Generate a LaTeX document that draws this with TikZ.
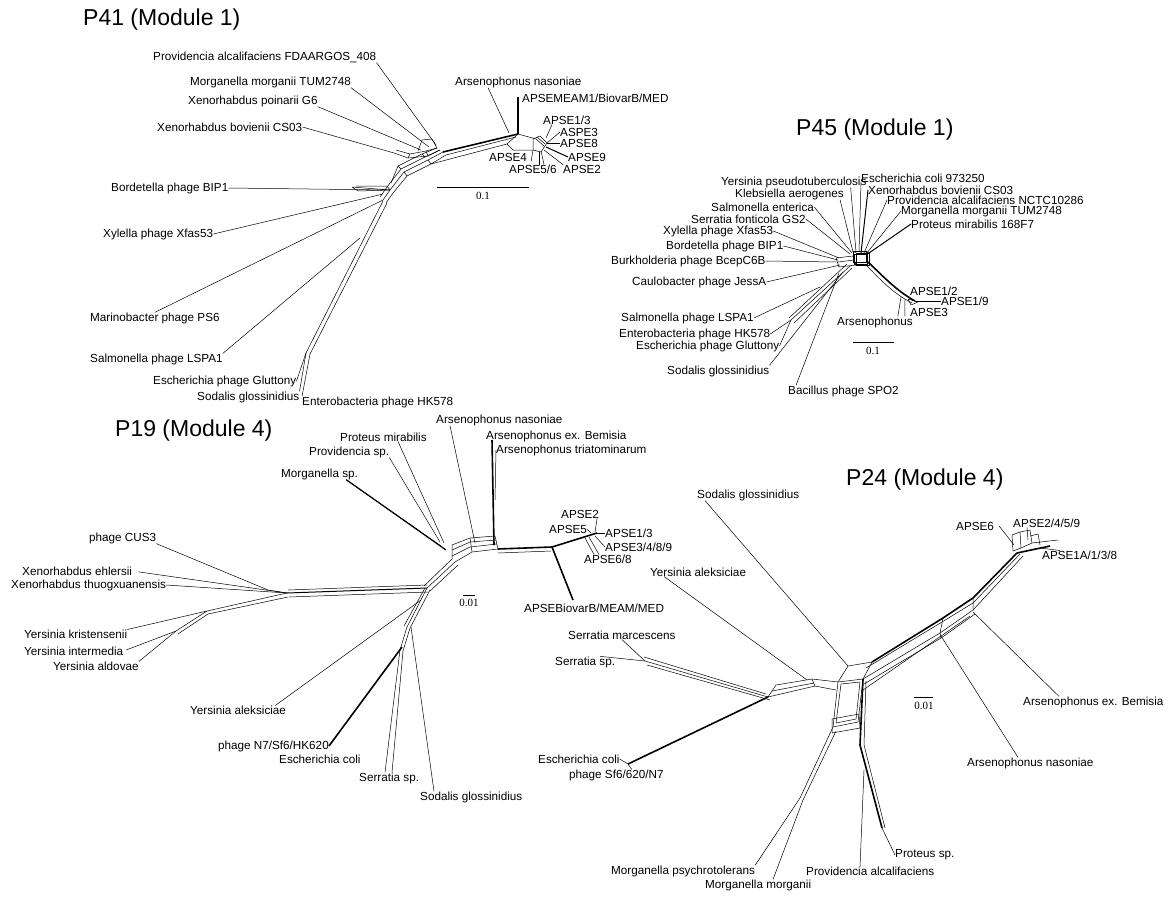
\documentclass[tikz,border=0pt]{standalone}
\usepackage{fontspec}
\setmainfont{Liberation Sans}
\newfontfamily\barfont{Liberation Serif}
\usepackage{tikz}
\tikzset{
  lab/.style={anchor=west, inner sep=0pt, font=\fontsize{11.7}{13}\selectfont},
  ttl/.style={anchor=west, inner sep=0pt, font=\fontsize{23}{26}\selectfont},
  bar/.style={inner sep=0pt, font=\barfont\fontsize{11}{12}\selectfont},
  net/.style={line width=0.5pt},
  thk/.style={line width=1.6pt},
}
\begin{document}
\begin{tikzpicture}[x=1pt, y=-1pt, line join=round]
\path[use as bounding box] (0,0) rectangle (1169,897);

% ---------- P41 ----------
\node[ttl] (t41) at (83,20) {P41 (Module 1)};
\node[lab] (p41prov) at (153,57) {Providencia alcalifaciens FDAARGOS\_408};
\node[lab] (p41morg) at (190,82) {Morganella morganii TUM2748};
\node[lab] (p41xpoi) at (188,101) {Xenorhabdus poinarii G6};
\node[lab] (p41xbov) at (157,127) {Xenorhabdus bovienii CS03};
\node[lab] (p41bord) at (111,188) {Bordetella phage BIP1};
\node[lab] (p41xyl) at (103,234) {Xylella phage Xfas53};
\node[lab] (p41mar) at (90,318) {Marinobacter phage PS6};
\node[lab] (p41lspa) at (90,359) {Salmonella phage LSPA1};
\node[lab] (p41glut) at (153,381) {Escherichia phage Gluttony};
\node[lab] (p41sod) at (197,397) {Sodalis glossinidius};
\node[lab] (p41hk) at (302,402) {Enterobacteria phage HK578};
\node[lab] (p41arsn) at (455,82) {Arsenophonus nasoniae};
\node[lab] (p41meam) at (522,98) {APSEMEAM1/BiovarB/MED};
\node[lab] (p41a13) at (543,120) {APSE1/3};
\node[lab] (p41a3) at (560,132) {ASPE3};
\node[lab] (p41a8) at (560,143) {APSE8};
\node[lab] (p41a9) at (568,157) {APSE9};
\node[lab] (p41a2) at (563,169) {APSE2};
\node[lab] (p41a4) at (489,157) {APSE4};
\node[lab] (p41a56) at (509,169) {APSE5/6};
\coordinate (e41prov) at (436,145);
\coordinate (e41morg) at (429,147);
\coordinate (e41xpoi) at (421,150);
\coordinate (e41xbov) at (394,153);
\coordinate (e41bord) at (390,190);
\coordinate (e41xyl) at (383,194);
\coordinate (e41mar) at (383,200);
\coordinate (e41lspa) at (360,238);
\coordinate (e41dn) at (306,353);
\coordinate (e41dn2) at (310,354);
\coordinate (e41up) at (443,152);
\coordinate (e41ar) at (518,134);
\coordinate (e41top) at (518,97);
\coordinate (e41cl) at (547,143);
% core
\draw[net] (e41mar) -- (e41bord) -- (404,172) -- (428,160) -- (e41up);
\draw[net] (386,203) -- (393,193) -- (407,176) -- (431,164) -- (446,155);
\draw[net] (380,197) -- (387,187) -- (401,169) -- (425,157) -- (440,150);
\draw[net] (391,183) -- (398,166) -- (422,154) -- (437,148);
\draw[net] (404,172) -- (407,176) (428,160) -- (431,164) (401,169) -- (398,166) (425,157) -- (422,154);
\draw[net] (e41xbov) -- (408,158) -- (428,156) -- (440,150);
\draw[net] (396,150) -- (410,154) -- (426,151) -- (437,148);
\draw[net] (408,158) -- (410,154) (428,156) -- (426,151);
\draw[net] (418,151) -- (422,140) -- (432,139) -- (437,148);
\draw[net] (352,187) -- (e41bord) -- (358,191) -- cycle;
\draw[net] (356,186) -- (387,186) -- (e41bord);
% leaders
\draw[net] (p41prov.south east) -- (e41prov);
\draw[net] (p41morg.south east) -- (e41morg);
\draw[net] (p41xpoi.south east) -- (e41xpoi);
\draw[net] (p41xbov.east) -- (e41xbov);
\draw[net] (p41bord.east) -- (e41bord);
\draw[net] (p41xyl.east) -- (e41xyl);
\draw[net] (p41mar.north) -- (e41mar);
\draw[net] (p41lspa.north east) -- (e41lspa);
\draw[net] (e41dn) -- (383,201);
\draw[net] (e41dn2) -- (387,203);
\draw[net] (p41glut.east) -- (e41dn);
\draw[net] (p41sod.north east) -- (e41dn);
\draw[net] (p41hk.north west) -- (e41dn2);
% Arsenophonus branch
\draw[thk] (e41up) -- (e41ar);
\draw[net] (446,155) -- (516,137);
\draw[net] (431,164) -- (507,144) -- (e41ar);
\draw[thk] (e41ar) -- (e41top);
\draw[net] ([xshift=33pt]p41arsn.south west) -- (509,133);
\draw[net] (e41ar) -- (536,139);
\draw[net] (507,144) -- (513,150) -- (533,150);
\draw[net] (533,139) -- (540,136) -- (e41cl) -- (541,152) -- (533,150) -- cycle;
\draw[net] (536,139) -- (544,146) (537,137) -- (545,144);
\draw[net] (546,138) -- ([xshift=9pt]p41a13.south west);
\draw[net] (e41cl) -- (p41a3.west);
\draw[net] (e41cl) -- (p41a8.west);
\draw[thk, line width=1pt] (546,147) -- (p41a9.west);
\draw[net] (544,150) -- (p41a2.north west);
\draw[net] (539,152) -- ([xshift=30pt]p41a56.north west);
\draw[net] (541,151) -- ([xshift=35pt]p41a56.north west);
\draw[net] (533,150) -- ([xshift=4pt]p41a4.south east);
% scale
\coordinate (b41l) at (437,187);
\coordinate (b41r) at (529,187);
\draw[net] (b41l) -- (b41r);
\node[bar] (s41) at (483,196) {0.1};

% ---------- P45 ----------
\node[ttl] (t45) at (796,130) {P45 (Module 1)};
\node[lab] (p45yps) at (721,182) {Yersinia pseudotuberculosis};
\node[lab] (p45eco) at (861,178) {Escherichia coli 973250};
\node[lab] (p45kle) at (735,194) {Klebsiella aerogenes};
\node[lab] (p45xbov) at (868,190) {Xenorhabdus bovienii CS03};
\node[lab] (p45prov) at (887,200) {Providencia alcalifaciens NCTC10286};
\node[lab] (p45morg) at (901,211) {Morganella morganii TUM2748};
\node[lab] (p45sal) at (711,207) {Salmonella enterica};
\node[lab] (p45ser) at (691,219) {Serratia fonticola GS2};
\node[lab] (p45prot) at (911,224) {Proteus mirabilis 168F7};
\node[lab] (p45xyl) at (663,231) {Xylella phage Xfas53};
\node[lab] (p45bord) at (666,246) {Bordetella phage BIP1};
\node[lab] (p45burk) at (611,261) {Burkholderia phage BcepC6B};
\node[lab] (p45caul) at (632,282) {Caulobacter phage JessA};
\node[lab] (p45lspa) at (621,318) {Salmonella phage LSPA1};
\node[lab] (p45hk) at (619,334) {Enterobacteria phage HK578};
\node[lab] (p45glut) at (636,346) {Escherichia phage Gluttony};
\node[lab] (p45sod) at (667,371) {Sodalis glossinidius};
\node[lab] (p45bac) at (788,391) {Bacillus phage SPO2};
\node[lab] (p45a12) at (910,291) {APSE1/2};
\node[lab] (p45a19) at (941,301) {APSE1/9};
\node[lab] (p45a3) at (910,312) {APSE3};
\node[lab] (p45ars) at (837,322) {Arsenophonus};
\coordinate (e45yps) at (856,252);
\coordinate (e45eco) at (859,252);
\coordinate (e45kle) at (853,252);
\coordinate (e45xbov) at (861,253);
\coordinate (e45prov) at (864,253);
\coordinate (e45morg) at (866,254);
\coordinate (e45prot) at (869,253);
\coordinate (e45sal) at (852,253);
\coordinate (e45ser) at (850,254);
\coordinate (e45xyl) at (839,258);
\coordinate (e45bord) at (838,260);
\coordinate (e45burk) at (836,262);
\coordinate (e45caul) at (840,265);
\coordinate (e45lspa) at (820,287);
\coordinate (e45br) at (791,320);
\coordinate (e45sod) at (843,272);
\coordinate (e45bac) at (839,273);
\coordinate (e45c) at (868,262);
\coordinate (e45tip) at (915,301);
\coordinate (e45ars1) at (901,297);
\coordinate (e45ars2) at (905,299);
% core
\draw[net] (853,251) rectangle (866,262);
\draw[net] (856,253) rectangle (869,265);
\draw[net] (854,254) rectangle (867,264);
\draw[net] (853,251) -- (856,253) (866,251) -- (869,253) (853,262) -- (856,265);
\draw[net] (836,258) -- (853,256) -- (856,265) -- (839,267) -- cycle;
\draw[net] (838,262) -- (854,260);
\draw[net] (847,264) -- (789,318);
\draw[net] (850,266) -- (e45br);
\draw[net] (852,268) -- (794,323);
\draw[thk] (e45c) .. controls (880,273) and (895,290) .. (e45tip);
\draw[net] (866,265) .. controls (878,277) and (892,293) .. (912,303);
\draw[net] (908,299) -- (918,302) -- (911,305) -- cycle;
% leaders
\draw[net] ([xshift=-16pt]p45yps.south east) -- (e45yps);
\draw[net] (p45eco.south west) -- (e45eco);
\draw[net] ([xshift=-4pt]p45kle.south east) -- (e45kle);
\draw[line width=1pt] (p45xbov.west) -- (e45xbov);
\draw[net] (p45prov.west) -- (e45prov);
\draw[net] (p45morg.west) -- (e45morg);
\draw[line width=1pt] (p45prot.west) -- (e45prot);
\draw[net] (p45sal.east) -- (e45sal);
\draw[net] (p45ser.east) -- (e45ser);
\draw[net] (p45xyl.east) -- (e45xyl);
\draw[net] (p45bord.east) -- (e45bord);
\draw[net] (p45burk.east) -- (e45burk);
\draw[net] (p45caul.east) -- (e45caul);
\draw[net] (p45lspa.east) -- (e45lspa);
\draw[net] (p45hk.east) -- (e45br);
\draw[net] (p45glut.east) -- (e45br);
\draw[net] (p45sod.north east) -- (e45sod);
\draw[net] ([xshift=8pt]p45bac.north west) -- (e45bac);
\draw[net] (e45tip) -- (p45a19.west);
\draw[net] ([xshift=-15pt]p45ars.north east) -- (e45ars1);
\draw[net] ([xshift=-8pt]p45ars.north east) -- (e45ars2);
% scale
\coordinate (b45l) at (853,342);
\coordinate (b45r) at (894,342);
\draw[net] (b45l) -- (b45r);
\node[bar] (s45) at (873,351) {0.1};

% ---------- P19 ----------
\node[ttl] (t19) at (115,431) {P19 (Module 4)};
\node[lab] (p19arsn) at (436,420) {Arsenophonus nasoniae};
\node[lab] (p19arsb) at (486,436) {Arsenophonus ex. Bemisia};
\node[lab] (p19arst) at (496,450) {Arsenophonus triatominarum};
\node[lab] (p19prot) at (340,437) {Proteus mirabilis};
\node[lab] (p19prov) at (309,452) {Providencia sp.};
\node[lab] (p19morg) at (281,474) {Morganella sp.};
\node[lab] (p19cus) at (89,538) {phage CUS3};
\node[lab] (p19xehl) at (22,571) {Xenorhabdus ehlersii};
\node[lab] (p19xthu) at (11,585) {Xenorhabdus thuogxuanensis};
\node[lab] (p19ykri) at (24,634) {Yersinia kristensenii};
\node[lab] (p19yint) at (24,651) {Yersinia intermedia};
\node[lab] (p19yald) at (53,666) {Yersinia aldovae};
\node[lab] (p19yale) at (190,710) {Yersinia aleksiciae};
\node[lab] (p19n7) at (218,746) {phage N7/Sf6/HK620};
\node[lab] (p19eco) at (279,759) {Escherichia coli};
\node[lab] (p19ser) at (359,778) {Serratia sp.};
\node[lab] (p19sod) at (420,797) {Sodalis glossinidius};
\node[lab] (p19a2) at (561,514) {APSE2};
\node[lab] (p19a5) at (549,529) {APSE5};
\node[lab] (p19a13) at (605,533) {APSE1/3};
\node[lab] (p19a3489) at (605,547) {APSE3/4/8/9};
\node[lab] (p19a68) at (584,559) {APSE6/8};
\node[lab] (p19biov) at (524,608) {APSEBiovarB/MEAM/MED};
\coordinate (h19a) at (287,593);
\coordinate (h19cus) at (268,590);
\coordinate (h19y1) at (207,611);
\coordinate (h19y2) at (176,631);
\coordinate (h19b) at (427,588);
\coordinate (h19c) at (455,562);
\coordinate (h19d) at (498,549);
\coordinate (h19e) at (552,547);
\coordinate (h19f) at (597,533);
\coordinate (h19g) at (573,600);
\coordinate (h19h) at (492,440);
\coordinate (h19lo) at (407,627);
\coordinate (h19lo2) at (400,650);
\coordinate (h19n7) at (402,647);
\coordinate (h19arsn) at (475,543);
\coordinate (h19prot) at (444,543);
\coordinate (h19prov) at (440,542);
\coordinate (h19morg) at (446,550);
\coordinate (h19yale) at (421,600);
\coordinate (h19sod) at (411,627);
% left part
\draw[net] (p19cus.south east) -- (h19cus) -- (h19a);
\draw[net, shorten <=6pt] (p19xehl.east) -- (h19a);
\draw[net] (p19xthu.east) -- (h19a);
\draw[net] (h19a) -- (h19y1) -- (h19y2);
\draw[net] (288,597) -- (208,614) -- (178,634);
\draw[net] (p19ykri.north east) -- (h19y1);
\draw[net, shorten <=3pt] (p19yint.east) -- (h19y2);
\draw[net] (p19yald.north east) -- (h19y2);
\draw[net] (288,590) -- (427,585);
\draw[line width=1pt] (h19a) -- (h19b);
\draw[net] (289,597) -- (428,592);
% centre
\draw[net] (h19b) -- (h19c);
\draw[net] (424,586) -- (452,559);
\draw[net] (430,591) -- (458,565);
\draw[net] (h19c) -- (472,552) -- (h19d);
\draw[net] (452,556) -- (470,547) -- (497,544);
\draw[net] (452,550) -- (470,542) -- (496,540);
\draw[net] (452,545) -- (470,538) -- (495,536);
\draw[net] (452,545) -- (452,559) (470,538) -- (472,552) (495,536) -- (h19d);
\draw[thk] (h19d) -- (h19e) -- (h19f);
\draw[net] (498,553) -- (551,551);
\draw[thk] (h19e) -- (h19g);
\draw[thk] (494,545) -- (h19h);
\draw[net] (495,500) -- (p19arst.west);
\draw[net] ([xshift=14pt]p19arsn.south west) -- (h19arsn);
\draw[net] ([xshift=58pt]p19prot.south west) -- (h19prot);
\draw[net] (p19prov.south east) -- (h19prov);
\draw[thk, line width=1.2pt] ([xshift=-12pt]p19morg.south east) -- (h19morg);
\draw[net] ([xshift=-12pt]p19morg.south east) -- (441,546);
% lower part
\draw[net] (425,588) -- (404,626);
\draw[net] (h19b) -- (h19lo);
\draw[net] (430,590) -- (410,628);
\draw[net] (h19lo) -- (h19lo2);
\draw[net] (410,628) -- (403,651);
\draw[net] ([xshift=-11pt]p19yale.north east) -- (h19yale);
\draw[thk] (p19n7.east) -- (h19n7);
\draw[net] ([xshift=26pt]p19ser.north west) -- (h19lo2);
\draw[net] ([xshift=33pt]p19ser.north west) -- (403,651);
\draw[net] ([xshift=14pt]p19sod.north west) -- (h19sod);
% APSE tips
\draw[net] (591,533) -- (p19a5.east);
\draw[net] (595,532) -- ([xshift=-2pt]p19a2.south east);
\draw[net] (h19f) -- (p19a13.west);
\draw[net] (595,536) -- (p19a3489.west);
\draw[net] (585,538) -- ([xshift=10pt]p19a68.north west);
\draw[net] (589,537) -- ([xshift=15pt]p19a68.north west);
% scale
\coordinate (b19l) at (463,595);
\coordinate (b19r) at (475,595);
\draw[net] (b19l) -- (b19r);
\node[bar] (s19) at (469,603) {0.01};

% ---------- P24 ----------
\node[ttl] (t24) at (846,480) {P24 (Module 4)};
\node[lab] (p24sod) at (697,495) {Sodalis glossinidius};
\node[lab] (p24a6) at (956,526) {APSE6};
\node[lab] (p24a2459) at (1013,523) {APSE2/4/5/9};
\node[lab] (p24a1a) at (1042,555) {APSE1A/1/3/8};
\node[lab] (p24yale) at (650,572) {Yersinia aleksiciae};
\node[lab] (p24smar) at (568,635) {Serratia marcescens};
\node[lab] (p24ssp) at (555,662) {Serratia sp.};
\node[lab] (p24arsb) at (1023,702) {Arsenophonus ex. Bemisia};
\node[lab] (p24eco) at (538,759) {Escherichia coli};
\node[lab] (p24sf6) at (569,775) {phage Sf6/620/N7};
\node[lab] (p24arsn) at (967,763) {Arsenophonus nasoniae};
\node[lab] (p24prot) at (895,855) {Proteus sp.};
\node[lab] (p24prov) at (806,871) {Providencia alcalifaciens};
\node[lab] (p24mpsy) at (611,871) {Morganella psychrotolerans};
\node[lab] (p24mmor) at (705,885) {Morganella morganii};
\coordinate (h24a) at (768,697);
\coordinate (h24s) at (645,661);
\coordinate (h24e) at (628,764);
\coordinate (h24b) at (815,686);
\coordinate (h24q1) at (838,682);
\coordinate (h24q2) at (863,679);
\coordinate (h24q3) at (858,722);
\coordinate (h24q4) at (833,727);
\coordinate (h24sd) at (848,666);
\coordinate (h24t) at (872,662);
\coordinate (h24u) at (1017,553);
\coordinate (h24pp) at (882,828);
\coordinate (h24m) at (800,798);
\coordinate (h24ab) at (973,612);
\coordinate (h24an) at (941,636);
% left part
\draw[net] (h24a) -- (h24s);
\draw[net] (770,700) -- (647,665);
\draw[net] (766,694) -- (644,657);
\draw[net] (p24smar.south) -- (h24s);
\draw[net] ([xshift=-15pt]p24ssp.north east) -- (h24s);
\draw[thk] (h24a) -- (h24e);
\draw[net] (p24eco.east) -- (h24e);
\draw[net] ([xshift=-32pt]p24sf6.north east) -- (h24e);
% centre
\draw[net] (h24a) -- (776,685) -- (812,679) -- (h24b) -- cycle;
\draw[net] (772,691) -- (814,683);
\draw[net] (812,679) -- (h24q1) (h24b) -- (836,690);
\draw[net] (h24q1) -- (h24q2) -- (h24q3) -- (h24q4) -- cycle;
\draw[net] (841,684) -- (860,682) -- (856,719) -- (836,723) -- cycle;
\draw[net] (832,719) -- (859,714) (832,733) -- (860,728) (832,719) -- (832,733) (859,714) -- (860,728);
\draw[net] (h24q1) -- (h24sd) -- (h24t) -- (h24q2);
\draw[net] ([xshift=8pt]p24sod.south west) -- (h24sd);
\draw[net] ([xshift=14pt]p24yale.south west) -- (807,680);
% upper right
\draw[thk] (h24t) -- (943,618) -- (973,598) -- (h24u);
\draw[net] (866,668) -- (942,622) -- (973,603) -- (1020,554);
\draw[net] (h24q2) -- (940,633) -- (973,610) -- (1023,556);
\draw[net] (864,684) -- (941,638) -- (975,614);
\draw[net] (863,690) -- (970,616);
\draw[net] (940,633) -- (943,618) (973,610) -- (973,598) (941,638) -- (940,633);
\draw[net] (1012,535) -- (1020,532) -- (1021,548) -- (1013,551) -- cycle;
\draw[net] (1020,532) -- (1030,530) -- (1032,543) -- (1021,548);
\draw[net] (1030,536) -- (1038,534) -- (1040,545);
\draw[thk] (h24u) -- (1050,546);
\draw[net] (1032,543) -- (1058,540);
\draw[net] ([xshift=5pt]p24a6.east) -- (1014,545);
\draw[net] ([xshift=14pt]p24a2459.south west) -- (1028,540);
\draw[net] (1040,548) -- ([xshift=18pt]p24a1a.north west);
\draw[net] ([xshift=36pt]p24arsb.north west) -- (h24ab);
\draw[net] ([xshift=51pt]p24arsn.north west) -- (h24an);
% lower part
\draw[thk] (h24q2) -- (860,745) -- (h24pp);
\draw[net] (866,681) -- (864,745) -- (885,828);
\draw[net] (p24prot.west) -- (h24pp);
\draw[net] ([xshift=54pt]p24prov.north west) -- (864,770);
\draw[net] (h24q4) -- (h24m);
\draw[net] (836,731) -- (803,800);
\draw[net] (p24mpsy.north east) -- (h24m);
\draw[net] ([xshift=68pt]p24mmor.north west) -- (803,800);
% scale
\coordinate (b24l) at (914,697);
\coordinate (b24r) at (933,697);
\draw[net] (b24l) -- (b24r);
\node[bar] (s24) at (924,706) {0.01};
\end{tikzpicture}
\end{document}
